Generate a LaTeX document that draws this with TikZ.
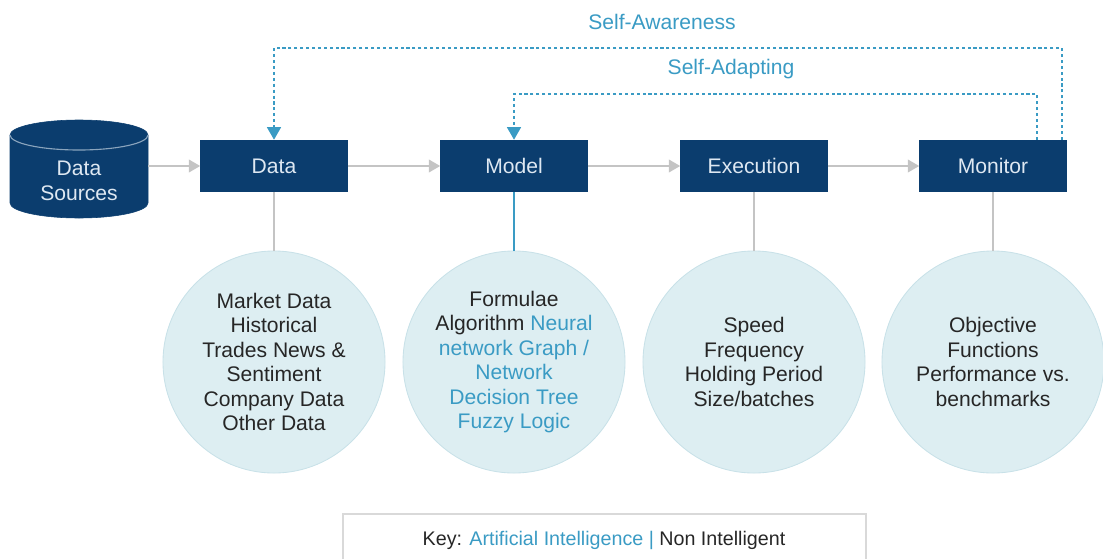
\documentclass[tikz,border=0pt]{standalone}
\usepackage{fontspec}
\setmainfont{Liberation Sans}
\usetikzlibrary{arrows.meta}

\definecolor{navy}{RGB}{11,61,110}
\definecolor{ai}{RGB}{58,155,196}
\definecolor{bubble}{RGB}{221,238,242}
\definecolor{rim}{RGB}{200,225,232}
\definecolor{txt}{RGB}{38,38,38}
\definecolor{boxtxt}{RGB}{222,232,242}
\definecolor{link}{RGB}{196,196,196}

\begin{document}
\begin{tikzpicture}[x=0.025cm, y=-0.025cm,
    font=\fontsize{15}{17.4}\selectfont,
    stage/.style={fill=navy, text=boxtxt, minimum width=3.675cm, minimum height=1.3cm, inner sep=0pt},
    detail/.style={circle, fill=bubble, draw=rim, line width=0.6pt, minimum size=5.55cm, inner sep=0pt, text=txt, align=center},
    flow/.style={draw=link, line width=1pt, -{Triangle[width=9pt, length=8pt]}},
    tie/.style={draw=link, line width=1pt},
    fb/.style={draw=ai, line width=1.1pt, dash pattern=on 2.2pt off 2pt, -{Triangle[width=10pt, length=9pt]}},
    fblabel/.style={text=ai}]
    \useasboundingbox (0,0) rectangle (1103,559);

    % source (cylinder)
    \filldraw[navy] (10,135) arc[start angle=180, end angle=360, x radius=69, y radius=15]
        -- (148,203) arc[start angle=0, end angle=180, x radius=69, y radius=15] -- cycle;
    \draw[boxtxt!60!navy, line width=0.8pt] (10,135) arc[start angle=180, end angle=0, x radius=69, y radius=15];
    \node[text=boxtxt, align=center, minimum width=3.45cm, inner sep=0pt] (src) at (79,181) {Data\\Sources};

    % stages
    \node[stage] (data) at (274,166) {Data};
    \node[stage] (model) at (514,166) {Model};
    \node[stage] (exec) at (754,166) {Execution};
    \node[stage] (mon) at (993,166) {Monitor};

    \draw[flow] (data.west -| src.east) -- (data.west);
    \draw[flow] (data) -- (model);
    \draw[flow] (model) -- (exec);
    \draw[flow] (exec) -- (mon);

    % details
    \node[detail] (datadet) at (274,362) {Market Data\\Historical\\Trades News \&\\Sentiment\\Company Data\\Other Data};
    \node[detail] (modeldet) at (514,362) {Formulae\\Algorithm \textcolor{ai}{Neural}\\\textcolor{ai}{network Graph /}\\\textcolor{ai}{Network}\\\textcolor{ai}{Decision Tree}\\\textcolor{ai}{Fuzzy Logic}};
    \node[detail] (execdet) at (754,362) {Speed\\Frequency\\Holding Period\\Size/batches};
    \node[detail] (mondet) at (993,362) {Objective\\Functions\\Performance vs.\\benchmarks};

    \draw[tie] (data) -- (datadet);
    \draw[tie, draw=ai] (model) -- (modeldet);
    \draw[tie] (exec) -- (execdet);
    \draw[tie] (mon) -- (mondet);

    % feedback loops
    \coordinate (awtop) at (1062,48);
    \coordinate (adtop) at (1037,94);
    \draw[fb] (mon.north -| awtop) -- (awtop) -| (data.north);
    \draw[fb] (mon.north -| adtop) -- (adtop) -| (model.north);
    \node[fblabel] (aware) at (662,22) {Self-Awareness};
    \node[fblabel] (adapt) at (731,69) {Self-Adapting};

    % key
    \draw[draw=black!15, line width=0.8pt] (343,559) -- (343,514) -- (866,514) -- (866,559);
    \node[text=txt, font=\fontsize{14}{16}\selectfont] (key) at (604,540) {Key: \textcolor{ai}{Artificial Intelligence |} Non Intelligent};
\end{tikzpicture}
\end{document}
